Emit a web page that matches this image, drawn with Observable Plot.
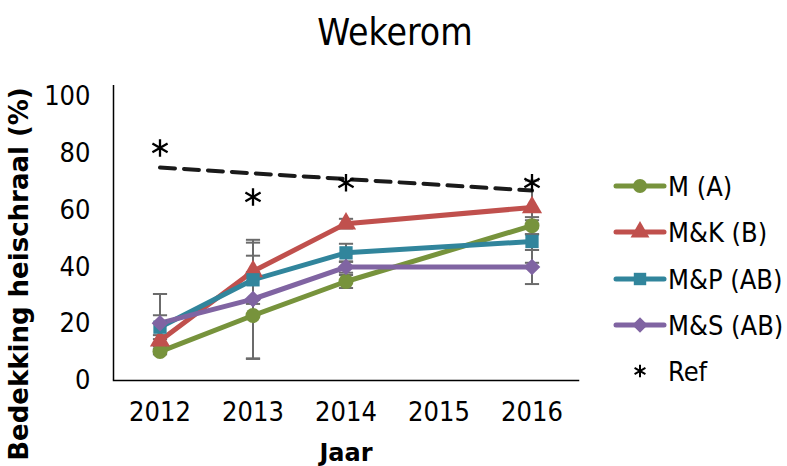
<!DOCTYPE html>
<html>
<head>
<meta charset="utf-8">
<script src="https://cdn.jsdelivr.net/npm/d3@7"></script>
<script src="https://cdn.jsdelivr.net/npm/@observablehq/plot@0.6"></script>
<style>
  html, body { margin: 0; padding: 0; background: #fff; }
  #wrap { position: relative; width: 787px; height: 466px; overflow: hidden; font-family: "DejaVu Sans Condensed", "DejaVu Sans", sans-serif; font-stretch: condensed; }
  #title { height: 62px; line-height: 66px; text-align: center; font-size: 37px; color: #000; padding-left: 3px; }
  #legend { position: absolute; left: 600px; top: 160px; }
  #ylabel { position: absolute; left: 19px; top: 274px; transform: translate(-50%, -50%) rotate(-90deg); white-space: nowrap;
            font-family: "DejaVu Sans", sans-serif; font-stretch: normal; font-weight: bold; font-size: 26px; color: #000; }
</style>
</head>
<body>
<div id="wrap">
  <div id="title">Wekerom</div>
  <div id="chart"></div>
  <div id="legend"></div>
  <div id="ylabel"></div>
</div>
<script>
// ---- data ----
const years = [2012, 2013, 2014, 2016];
const seriesNames = ["M (A)", "M&K (B)", "M&P (AB)", "M&S (AB)"];
const seriesColors = ["#77933C", "#C0504D", "#31859C", "#8064A2"];
const seriesSymbols = ["circle", "triangle", "square", "diamond2"];
const valuesM  = [10.2, 22.9, 34.9, 54.6];
const valuesMK = [14.0, 38.5, 55.3, 61.0];
const valuesMP = [18.8, 35.5, 45.0, 49.0];
const valuesMS = [20.2, 28.7, 40.0, 40.0];
const errM  = [1.0, 15.3, 2.3, 3.0];
const errMK = [2.0, 10.1, 1.7, 9.5];
const errMP = [4.2, 8.5, 3.2, 7.5];
const errMS = [10.3, 20.9, 2.0, 6.0];
const refValues = [82, 64.7, 69.7, 69.7];
const refName = "Ref";
const xTicks = [2012, 2013, 2014, 2015, 2016];
const yTicks = [0, 20, 40, 60, 80, 100];
const xLabel = "Jaar";
const yLabel = "Bedekking heischraal (%)";

const allValues = [valuesM, valuesMK, valuesMP, valuesMS];
const allErrors = [errM, errMK, errMP, errMS];
const rows = seriesNames.flatMap((s, i) => years.map((yr, j) => ({
  series: s, year: yr, value: allValues[i][j], err: allErrors[i][j],
  lo: allValues[i][j] - allErrors[i][j], hi: allValues[i][j] + allErrors[i][j]
})));
const refRows = years.map((yr, j) => ({year: yr, value: refValues[j]}));

const capSymbol = { draw(ctx, size) { const w = Math.sqrt(size) / 2; ctx.moveTo(-w, 0); ctx.lineTo(w, 0); } };
const font = "\"DejaVu Sans Condensed\", \"DejaVu Sans\", sans-serif";

document.getElementById("ylabel").textContent = yLabel;

const chart = Plot.plot({
  width: 787,
  height: 404,
  marginLeft: 113,
  marginRight: 209,
  marginTop: 23,
  marginBottom: 86,
  style: { fontFamily: font, fontSize: "27px", color: "#000", background: "#fff", overflow: "visible" },
  x: { domain: [2011.5, 2016.5] },
  y: { domain: [0, 104] },
  color: { domain: seriesNames, range: seriesColors },
  symbol: { domain: seriesNames, range: seriesSymbols },
  marks: [
    Plot.axisX({ ticks: xTicks, tickFormat: "d", tickSize: 0, tickPadding: 21, label: null, fontSize: 27 }),
    Plot.axisY({ ticks: yTicks, tickSize: 0, tickPadding: 23, label: null, fontSize: 27 }),
    Plot.frame({ anchor: "bottom", stroke: "#000", strokeWidth: 1.5 }),
    Plot.ruleX([2011.5], { y1: 0, y2: 104, stroke: "#000", strokeWidth: 1.5 }),
    Plot.text([xLabel], { frameAnchor: "bottom", dy: 80, fontWeight: "bold", fontSize: 24, fontFamily: "DejaVu Sans", fill: "#000" }),
    // error bars
    Plot.ruleX(rows, { x: "year", y1: "lo", y2: "hi", stroke: "#6b6b6b", strokeWidth: 2 }),
    Plot.dot(rows, { x: "year", y: "hi", symbol: capSymbol, r: 8, stroke: "#6b6b6b", strokeWidth: 2, fill: "none" }),
    Plot.dot(rows, { x: "year", y: "lo", symbol: capSymbol, r: 8, stroke: "#6b6b6b", strokeWidth: 2, fill: "none" }),
    // trend line of the reference
    Plot.linearRegressionY(refRows, { x: "year", y: "value", ci: 0, stroke: "#1a1a1a", strokeWidth: 4, strokeDasharray: "15,9" }),
    // series lines and markers
    ...seriesNames.map(s => Plot.line(rows.filter(r => r.series === s), { x: "year", y: "value", stroke: "series", strokeWidth: 5 })),
    Plot.dot(rows, { x: "year", y: "value", fill: "series", symbol: "series", r: 7.5, stroke: null }),
    Plot.dot(refRows, { x: "year", y: "value", symbol: "asterisk", r: 8.3, stroke: "#000", strokeWidth: 2.3 })
  ]
});
document.getElementById("chart").appendChild(chart);
chart.querySelectorAll("text").forEach(t => { if (t.textContent === xLabel) t.style.fontStretch = "normal"; });

// legend
const lg = d3.select("#legend").append("svg").attr("width", 187).attr("height", 240)
  .style("font-family", font).style("font-size", "27px");
const rowY = [26, 72, 119, 165, 211];
seriesNames.forEach((s, i) => {
  const g = lg.append("g").attr("transform", `translate(0,${rowY[i]})`);
  g.append("line").attr("x1", 16).attr("x2", 64).attr("y1", 0).attr("y2", 0)
    .attr("stroke", seriesColors[i]).attr("stroke-width", 5).attr("stroke-linecap", "round");
  const sym = { circle: d3.symbolCircle, triangle: d3.symbolTriangle, square: d3.symbolSquare, diamond2: d3.symbolDiamond2 }[seriesSymbols[i]];
  g.append("path").attr("d", d3.symbol(sym, Math.PI * 7 * 7)()).attr("transform", "translate(40,0)").attr("fill", seriesColors[i]);
  g.append("text").attr("x", 68).attr("y", 0).attr("dy", "0.36em").attr("fill", "#000").text(s);
});
{
  const g = lg.append("g").attr("transform", `translate(0,${rowY[4]})`);
  g.append("path").attr("d", d3.symbol(d3.symbolAsterisk, 110)()).attr("transform", "translate(40,0)").attr("stroke", "#000").attr("stroke-width", 2).attr("fill", "none");
  g.append("text").attr("x", 68).attr("y", 0).attr("dy", "0.36em").attr("fill", "#000").text(refName);
}
</script>
</body>
</html>
